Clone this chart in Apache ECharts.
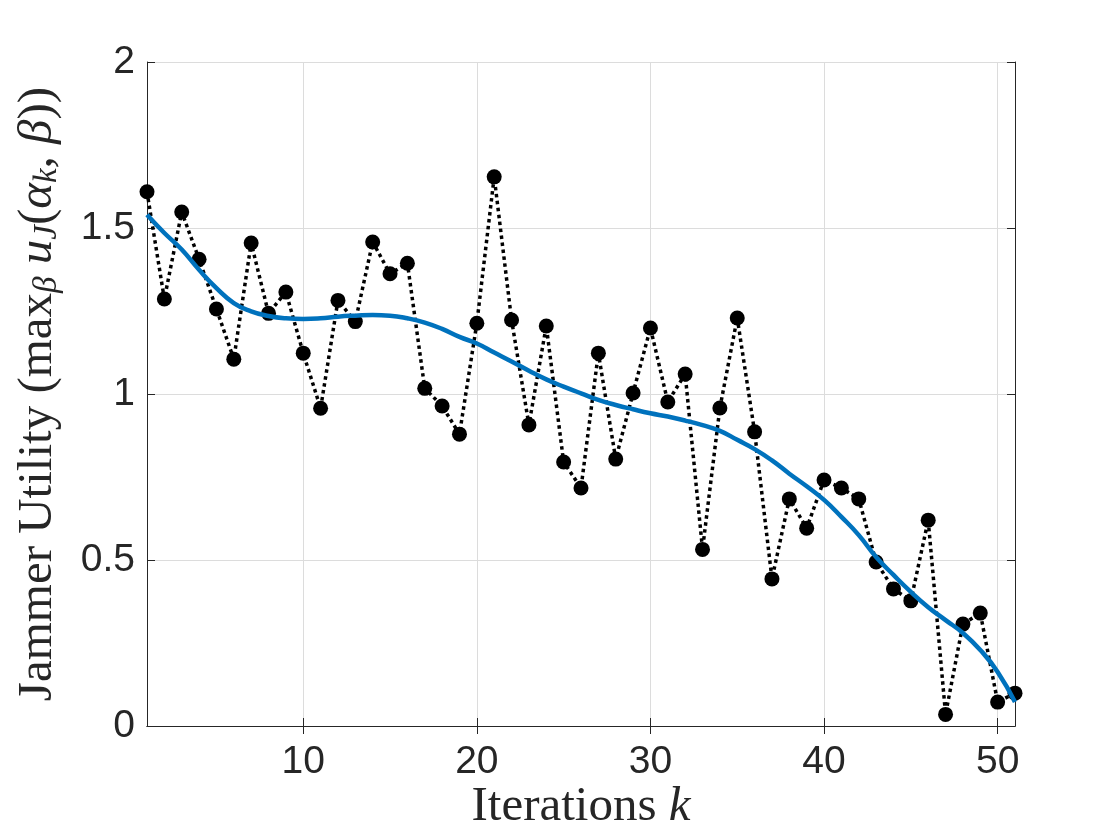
<!DOCTYPE html>
<html>
<head>
<meta charset="utf-8">
<title>Jammer Utility</title>
<script src="https://cdn.jsdelivr.net/npm/echarts@6/dist/echarts.min.js"></script>
<style>
  html, body { margin: 0; padding: 0; background: #fff; }
  #main { width: 1120px; height: 840px; }
</style>
</head>
<body>
<div id="main"></div>
<script>
// iteration index k
const iterations = [1, 2, 3, 4, 5, 6, 7, 8, 9, 10, 11, 12, 13, 14, 15, 16, 17, 18, 19, 20,
  21, 22, 23, 24, 25, 26, 27, 28, 29, 30, 31, 32, 33, 34, 35, 36, 37, 38, 39, 40,
  41, 42, 43, 44, 45, 46, 47, 48, 49, 50, 51]
// max over beta of u_J(alpha_k, beta)
const utility = [1.609, 1.286, 1.548, 1.406, 1.256, 1.105, 1.455, 1.243, 1.307, 1.123,
  0.957, 1.282, 1.218, 1.458, 1.362, 1.394, 1.017, 0.964, 0.879, 1.213,
  1.654, 1.223, 0.907, 1.205, 0.795, 0.717, 1.123, 0.804, 1.003, 1.199,
  0.976, 1.060, 0.532, 0.958, 1.229, 0.886, 0.443, 0.684, 0.596, 0.741,
  0.717, 0.684, 0.494, 0.413, 0.377, 0.620, 0.035, 0.307, 0.340, 0.072, 0.099]
// smooth trend (blue curve)
const trend = [1.540, 1.485, 1.435, 1.374, 1.319, 1.274, 1.249, 1.235, 1.228, 1.226,
  1.228, 1.233, 1.236, 1.238, 1.236, 1.228, 1.215, 1.196, 1.172, 1.152,
  1.125, 1.098, 1.070, 1.044, 1.022, 1.002, 0.982, 0.967, 0.954, 0.942,
  0.932, 0.920, 0.906, 0.889, 0.862, 0.834, 0.800, 0.760, 0.722, 0.681,
  0.630, 0.575, 0.509, 0.455, 0.404, 0.358, 0.319, 0.280, 0.229, 0.163, 0.072]
const xTicks = [10, 20, 30, 40, 50]
const yTicks = [0, 0.5, 1, 1.5, 2]

const axisColor = '#262626'
const gridColor = '#dcdcdc'
const sans = 'Liberation Sans'
const serif = 'Liberation Serif'

const pairs = (ys) => iterations.map((x, i) => [x, ys[i]])

// box axes (top / right) only carry the inward ticks
const boxX = {
  type: 'value', min: 1, max: 51, position: 'top',
  axisLine: { show: true, lineStyle: { color: axisColor, width: 1 } },
  axisTick: { show: true, inside: true, length: 8, customValues: xTicks, lineStyle: { color: axisColor } },
  axisLabel: { show: false },
  splitLine: { show: false }
}
const boxY = {
  type: 'value', min: 0, max: 2, interval: 0.5, position: 'right',
  axisLine: { show: true, lineStyle: { color: axisColor, width: 1 } },
  axisTick: { show: true, inside: true, length: 8, lineStyle: { color: axisColor } },
  axisLabel: { show: false },
  splitLine: { show: false }
}

const nameRich = {
  n: { fontFamily: serif, fontSize: 49, lineHeight: 52, color: axisColor },
  i: { fontFamily: serif, fontSize: 49, lineHeight: 52, fontStyle: 'italic', color: axisColor },
  s: { fontFamily: serif, fontSize: 33, lineHeight: 27, fontStyle: 'italic', verticalAlign: 'bottom', color: axisColor }
}

const chart = echarts.init(document.getElementById('main'), null, { renderer: 'canvas' })
chart.setOption({
  animation: false,
  backgroundColor: '#ffffff',
  grid: { left: 147, right: 105, top: 62, bottom: 114 },
  xAxis: [{
    type: 'value', min: 1, max: 51,
    name: '{n|Iterations }{i|k}',
    nameLocation: 'middle',
    nameGap: 55,
    nameMoveOverlap: false,
    nameTextStyle: { rich: nameRich },
    axisLine: { show: true, onZero: false, lineStyle: { color: axisColor, width: 1 } },
    axisTick: { show: true, inside: true, length: 8, customValues: xTicks, lineStyle: { color: axisColor } },
    axisLabel: { customValues: xTicks, fontFamily: sans, fontSize: 39, color: axisColor, margin: 17 },
    splitLine: { show: true, lineStyle: { color: gridColor, width: 1 } }
  }, boxX],
  yAxis: [{
    type: 'value', min: 0, max: 2, interval: 0.5,
    name: '{n|Jammer Utility (max}{s|β}{n| }{i|u}{s|J}{n|(}{i|α}{s|k}{n|, }{i|β}{n|))}',
    nameLocation: 'middle',
    nameGap: 83,
    nameMoveOverlap: false,
    nameTextStyle: { rich: nameRich },
    axisLine: { show: true, onZero: false, lineStyle: { color: axisColor, width: 1 } },
    axisTick: { show: true, inside: true, length: 8, lineStyle: { color: axisColor } },
    axisLabel: {
      customValues: yTicks,
      fontFamily: sans, fontSize: 39, color: axisColor, margin: 12
    },
    splitLine: { show: true, lineStyle: { color: gridColor, width: 1 } }
  }, boxY],
  series: [{
    name: 'utility',
    type: 'line',
    data: pairs(utility),
    clip: false,
    symbol: 'circle',
    symbolSize: 15,
    itemStyle: { color: '#000000' },
    lineStyle: { color: '#000000', width: 3.5, type: [3.5, 3.5] },
    z: 2
  }, {
    name: 'trend',
    type: 'line',
    data: pairs(trend),
    smooth: true,
    showSymbol: false,
    clip: false,
    lineStyle: { color: '#0072BD', width: 4.5 },
    z: 3
  }]
})
</script>
</body>
</html>
